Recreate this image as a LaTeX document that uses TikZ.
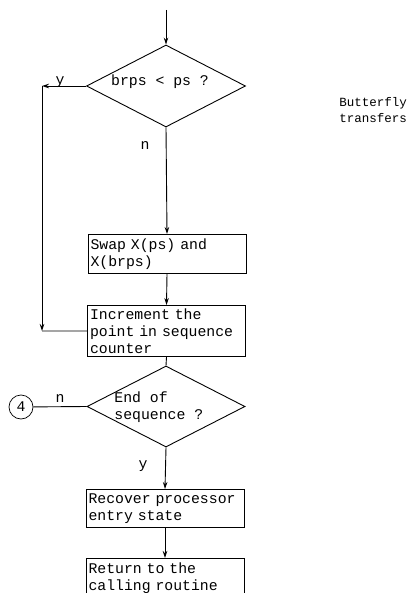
\documentclass[tikz,border=0pt]{standalone}
\usepackage{fontspec}
\setmonofont{Liberation Mono}
\usetikzlibrary{shapes.geometric,arrows.meta}
\begin{document}
\begin{tikzpicture}[x=1pt,y=-1pt,
  font=\ttfamily\fontsize{14.8}{17}\selectfont,
  line width=0.9pt,
  box/.style={draw, rectangle, minimum width=158pt, text width=153pt, align=left, inner xsep=2pt, inner ysep=2pt, anchor=north},
  dia/.style={draw, diamond, minimum width=159pt, minimum height=82pt, inner sep=0pt},
  arr/.style={-{Stealth[length=7pt,width=4.5pt]}},
  lbl/.style={inner sep=0pt}]
\useasboundingbox (0,0) rectangle (413,593);
\clip (0,0) rectangle (413,593);

\coordinate (start) at (166,10);
\node[dia] (d1) at (166,86) {};
\node[lbl] (t1) at (160,82) {brps < ps ?};
\node[box, minimum height=39pt] (b1) at (167,234) {Swap X(ps) and\\X(brps)};
\node[box, minimum height=51pt] (b2) at (166.5,305) {Increment the\\point in sequence\\counter};
\node[dia, minimum width=158pt, minimum height=81pt] (d2) at (166,406.5) {};
\node[lbl, align=left, anchor=west] (t2) at (114,407) {End of\\sequence ?};
\node[draw, circle, minimum size=24pt, inner sep=0pt, line width=0.7pt] (c4) at (21,407) {4};
\node[box, minimum height=38pt] (b3) at (165,489) {Recover processor\\entry state};
\node[box, minimum height=40pt] (b4) at (165,558) {Return to the\\calling routine};

\node[lbl] (ly1) at (60,82) {y};
\node[lbl] (ln1) at (145,146) {n};
\node[lbl] (ln2) at (60,399) {n};
\node[lbl] (ly2) at (143,466) {y};
\node[align=center, inner sep=0pt, font=\ttfamily\fontsize{12.5}{16}\selectfont] (bt) at (373,110) {Butterfly\\transfers};

\coordinate (l2) at (42,331);
\coordinate (l1) at (l2 |- d1.west);

\draw[arr] (start) -- (d1.north);
\draw[arr] (d1.south) -- (b1.north);
\draw[arr] (b1.south) -- (b2.north);
\draw (b2.south) -- (d2.north);
\draw[arr] (d1.west) -- (l1);
\draw[arr] (l1) -- (l2);
\draw (l2) -- (b2.west);
\draw (c4) -- (d2.west);
\draw[arr] (d2.south) -- (b3.north);
\draw[arr] (b3.south) -- (b4.north);
\end{tikzpicture}
\end{document}
